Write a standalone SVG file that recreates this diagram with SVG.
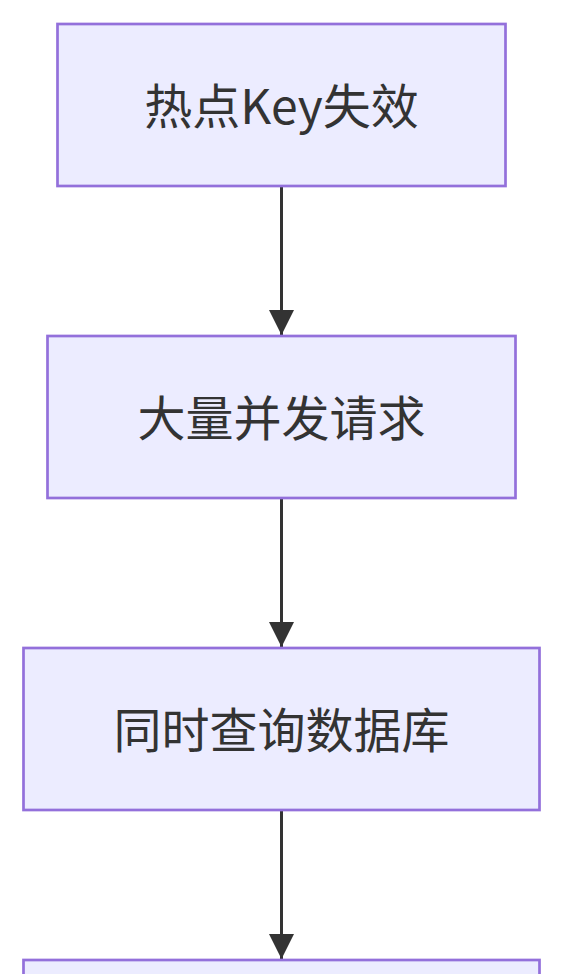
<svg xmlns="http://www.w3.org/2000/svg" width="564" height="974" viewBox="0 0 564 974">
<defs>
<style>
.node rect{fill:#ECECFF;stroke:#9370DB;stroke-width:2.7px;}
.node text{fill:#333333;font-family:"Noto Sans CJK SC","Noto Sans",sans-serif;font-size:48px;text-anchor:middle;dominant-baseline:central;}
.edge{stroke:#333333;stroke-width:3px;fill:none;}
</style>
<marker id="arrow" viewBox="0 0 10 10" refX="10" refY="5" markerUnits="userSpaceOnUse" markerWidth="25" markerHeight="25" orient="auto">
<path d="M0,0 L10,5 L0,10 Z" fill="#333333"/>
</marker>
</defs>
<rect width="564" height="974" fill="#FFFFFF"/>
<g id="connectors">
<path class="edge" d="M281.5,186 L281.5,335" marker-end="url(#arrow)"/>
<path class="edge" d="M281.5,498 L281.5,647" marker-end="url(#arrow)"/>
<path class="edge" d="M281.5,810 L281.5,959" marker-end="url(#arrow)"/>
</g>
<g id="node1" class="node">
<rect x="57.5" y="24" width="448" height="162"/>
<text x="281.5" y="103">热点Key失效</text>
</g>
<g id="node2" class="node">
<rect x="47.5" y="336" width="468" height="162"/>
<text x="281.5" y="415">大量并发请求</text>
</g>
<g id="node3" class="node">
<rect x="23.5" y="648" width="516" height="162"/>
<text x="281.5" y="727">同时查询数据库</text>
</g>
<g id="node4" class="node">
<rect x="23.5" y="960" width="516" height="162"/>
</g>
</svg>
